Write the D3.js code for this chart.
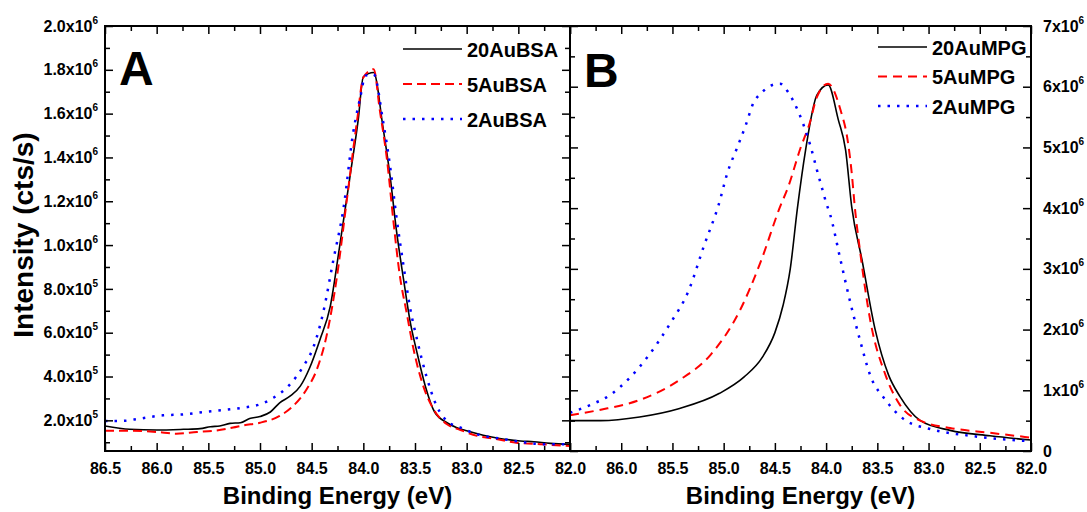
<!DOCTYPE html>
<html>
<head>
<meta charset="utf-8">
<script src="https://cdn.jsdelivr.net/npm/d3@7"></script>
<style>
  body { margin: 0; background: #fff; }
  text { font-family: "Liberation Sans", Arial, sans-serif; font-weight: bold; fill: #000; }
</style>
</head>
<body>
<div id="chart"></div>
<script>
// ---- data ----
// panel A : Au 4f, BSA samples (intensity in cts/s)
const bsa20E = [86.50,86.26,86.00,85.74,85.58,85.48,85.39,85.29,85.19,85.10,85.00,84.90,84.81,84.71,84.61,84.52,84.42,84.32,84.23,84.13,84.05,84.00,83.90,83.81,83.74,83.68,83.61,83.55,83.48,83.40,83.31,83.19,83.10,83.00,82.84,82.68,82.48,82.35,82.19,82.00];
const bsa20I = [1.74,1.59,1.56,1.59,1.62,1.71,1.74,1.86,1.89,2.08,2.17,2.38,2.80,3.10,3.56,4.39,5.68,7.20,9.92,13.1,15.7,17.68,17.88,15.38,13.1,10.68,8.41,6.59,5.08,3.56,2.38,1.89,1.67,1.52,1.32,1.17,1.06,1.02,0.95,0.91].map(v => v * 1e5);

const bsa5E = [86.50,86.26,86.00,85.81,85.61,85.45,85.26,85.16,85.00,84.81,84.68,84.55,84.45,84.35,84.26,84.16,84.06,84.00,83.90,83.84,83.77,83.71,83.65,83.58,83.52,83.44,83.32,83.19,83.06,82.90,82.74,82.52,82.29,82.00];
const bsa5I = [1.52,1.52,1.47,1.39,1.47,1.52,1.67,1.77,1.89,2.20,2.65,3.41,4.32,5.98,8.41,12.05,15.7,17.65,18.03,16.14,13.86,11.14,8.71,6.89,5.38,3.86,2.50,1.82,1.56,1.29,1.17,0.98,0.91,0.83].map(v => v * 1e5);

const bsa2E = [86.50,86.35,86.16,85.94,85.74,85.55,85.35,85.16,85.00,84.87,84.71,84.58,84.48,84.39,84.29,84.19,84.10,84.03,83.98,83.90,83.81,83.74,83.68,83.61,83.55,83.48,83.39,83.29,83.19,83.06,82.90,82.68,82.48,82.26,82.00];
const bsa2I = [1.97,1.97,2.08,2.23,2.27,2.38,2.47,2.58,2.73,3.03,3.64,4.47,5.38,6.89,9.32,11.74,15.08,16.74,17.73,17.80,15.68,13.56,11.30,9.02,7.20,5.68,4.02,2.65,1.97,1.67,1.36,1.17,1.02,0.91,0.91].map(v => v * 1e5);

// panel B : Au 4f, MPG samples
const mpg20E = [86.50,86.20,85.82,85.43,85.04,84.80,84.62,84.50,84.42,84.35,84.28,84.20,84.09,83.98,83.88,83.81,83.75,83.65,83.52,83.39,83.28,83.08,82.79,82.40,82.00];
const mpg20I = [0.50,0.50,0.56,0.70,0.95,1.22,1.55,1.95,2.40,3.00,4.00,4.96,5.86,6.03,5.45,4.96,4.02,3.15,1.99,1.25,0.90,0.50,0.34,0.25,0.18].map(v => v * 1e6);

const mpg5E = [86.50,86.20,85.82,85.43,85.13,84.84,84.64,84.45,84.37,84.25,84.16,84.09,83.98,83.86,83.79,83.75,83.72,83.67,83.57,83.42,83.28,83.08,82.79,82.40,82.00];
const mpg5I = [0.59,0.68,0.84,1.17,1.58,2.32,3.11,4.02,4.35,4.99,5.40,5.83,6.05,5.62,5.12,4.58,4.02,3.31,2.16,1.25,0.76,0.50,0.38,0.30,0.22].map(v => v * 1e6);

const mpg2E = [86.50,86.30,86.11,85.92,85.73,85.53,85.34,85.19,85.05,84.96,84.87,84.79,84.71,84.63,84.55,84.45,84.37,84.31,84.22,84.15,84.09,84.03,84.00,83.96,83.86,83.77,83.67,83.57,83.42,83.23,82.98,82.59,82.00];
const mpg2I = [0.63,0.76,0.92,1.20,1.58,2.08,2.65,3.39,4.05,4.60,4.99,5.34,5.73,5.90,6.01,6.05,5.91,5.73,5.37,5.01,4.63,4.27,4.09,3.89,3.15,2.49,1.83,1.25,0.84,0.51,0.36,0.25,0.16].map(v => v * 1e6);

// tick values
const energyTicks = [86.5,86.0,85.5,85.0,84.5,84.0,83.5,83.0,82.5,82.0];
const energyMinor = [86.25,85.75,85.25,84.75,84.25,83.75,83.25,82.75,82.25];
const bsaTicks = [2e5,4e5,6e5,8e5,1e6,1.2e6,1.4e6,1.6e6,1.8e6,2e6];
const bsaMinor = [1e5,3e5,5e5,7e5,9e5,1.1e6,1.3e6,1.5e6,1.7e6,1.9e6];
const mpgTicks = [0,1e6,2e6,3e6,4e6,5e6,6e6,7e6];
const mpgMinor = [0.5e6,1.5e6,2.5e6,3.5e6,4.5e6,5.5e6,6.5e6];

const seriesA = [
  {name: "20AuBSA", e: bsa20E, v: bsa20I, color: "#000", dash: null, w: 1.6},
  {name: "5AuBSA",  e: bsa5E,  v: bsa5I,  color: "#ff0000", dash: "9,5", w: 2},
  {name: "2AuBSA",  e: bsa2E,  v: bsa2I,  color: "#0000ff", dash: "2.5,7", w: 2.5}
];
const seriesB = [
  {name: "20AuMPG", e: mpg20E, v: mpg20I, color: "#000", dash: null, w: 1.6},
  {name: "5AuMPG",  e: mpg5E,  v: mpg5I,  color: "#ff0000", dash: "9,6", w: 2},
  {name: "2AuMPG",  e: mpg2E,  v: mpg2I,  color: "#0000ff", dash: "2.5,7", w: 2.5}
];

// ---- layout ----
const W = 1087, H = 512;
const plotTop = 26, plotBottom = 451;

const svg = d3.select("#chart").append("svg")
    .attr("width", W)
    .attr("height", H);

// label like 2.0x10^5 with a real superscript
function sciLabel(textSel, digits) {
  textSel.each(function (d) {
    const t = d3.select(this);
    t.text(null);
    if (d === 0) { t.text("0"); return; }
    const exp = Math.floor(Math.log10(d) + 1e-9);
    const m = d / Math.pow(10, exp);
    t.append("tspan").text(m.toFixed(digits) + "x10");
    t.append("tspan").attr("dy", -8).attr("font-size", 10).text(exp);
  });
}

function drawPanel(cfg) {
  const x = d3.scaleLinear().domain([86.5, 82.0]).range([cfg.left, cfg.right]);
  const y = d3.scaleLinear().domain(cfg.yDomain).range([plotBottom, plotTop]);
  const g = svg.append("g");

  const clipId = "clip" + cfg.letter;
  svg.append("clipPath").attr("id", clipId)
    .append("rect")
    .attr("x", cfg.left).attr("y", plotTop)
    .attr("width", cfg.right - cfg.left).attr("height", plotBottom - plotTop);

  const line = d3.line()
      .x(d => x(d[0]))
      .y(d => y(d[1]))
      .curve(d3.curveMonotoneX);

  g.append("g").attr("clip-path", "url(#" + clipId + ")")
    .selectAll("path")
    .data(cfg.series)
    .join("path")
      .attr("d", s => line(s.e.map((e, i) => [e, s.v[i]])))
      .attr("fill", "none")
      .attr("stroke", s => s.color)
      .attr("stroke-width", s => s.w)
      .attr("stroke-dasharray", s => s.dash);

  // ticks, all pointing inwards
  const axes = g.append("g");
  const bottomAx = axes.append("g").attr("transform", `translate(0,${plotBottom})`)
    .call(d3.axisBottom(x).tickValues(energyTicks).tickSizeInner(-8).tickSizeOuter(0).tickPadding(12)
      .tickFormat(d => (cfg.skipFirst && d === 86.5) ? "" : d3.format(".1f")(d)));
  bottomAx.selectAll("text").attr("font-size", 16).attr("fill", "#000");
  axes.append("g").attr("transform", `translate(0,${plotBottom})`)
    .call(d3.axisBottom(x).tickValues(energyMinor).tickSize(-5).tickFormat(""));
  axes.append("g").attr("transform", `translate(0,${plotTop})`)
    .call(d3.axisTop(x).tickValues(energyTicks).tickSize(-8).tickFormat(""));
  axes.append("g").attr("transform", `translate(0,${plotTop})`)
    .call(d3.axisTop(x).tickValues(energyMinor).tickSize(-5).tickFormat(""));

  // y ticks: labelled side plus mirrored side
  const labelAxis = cfg.labelSide === "left" ? d3.axisLeft : d3.axisRight;
  const otherAxis = cfg.labelSide === "left" ? d3.axisRight : d3.axisLeft;
  const lx = cfg.labelSide === "left" ? cfg.left : cfg.right;
  const ox = cfg.labelSide === "left" ? cfg.right : cfg.left;

  const yAx = axes.append("g").attr("transform", `translate(${lx},0)`)
    .call(labelAxis(y).tickValues(cfg.yTicks).tickSizeInner(-8).tickSizeOuter(0).tickPadding(cfg.yPad));
  yAx.selectAll("text").attr("font-size", 16).attr("fill", "#000").call(sciLabel, cfg.digits);
  axes.append("g").attr("transform", `translate(${lx},0)`)
    .call(labelAxis(y).tickValues(cfg.yMinor).tickSize(-5).tickFormat(""));
  axes.append("g").attr("transform", `translate(${ox},0)`)
    .call(otherAxis(y).tickValues(cfg.yTicks).tickSize(-8).tickFormat(""));
  axes.append("g").attr("transform", `translate(${ox},0)`)
    .call(otherAxis(y).tickValues(cfg.yMinor).tickSize(-5).tickFormat(""));

  axes.selectAll(".domain").remove();
  axes.selectAll(".tick line").attr("stroke", "#000").attr("stroke-width", 1.5);

  // frame
  g.append("rect")
    .attr("x", cfg.left).attr("y", plotTop)
    .attr("width", cfg.right - cfg.left).attr("height", plotBottom - plotTop)
    .attr("fill", "none").attr("stroke", "#000").attr("stroke-width", 2);

  // x title
  g.append("text")
    .attr("x", (cfg.left + cfg.right) / 2).attr("y", 504)
    .attr("text-anchor", "middle").attr("font-size", 24)
    .text("Binding Energy (eV)");

  // panel letter
  g.append("text")
    .attr("x", cfg.left + cfg.letterDx).attr("y", cfg.letterY)
    .attr("font-size", 48)
    .text(cfg.letter);

  // legend
  const leg = g.append("g").selectAll("g")
    .data(cfg.series)
    .join("g")
      .attr("transform", (s, i) => `translate(0,${cfg.legY + i * cfg.legStep})`);
  leg.append("line")
    .attr("x1", cfg.legX).attr("x2", cfg.legX + cfg.legLen)
    .attr("stroke", s => s.color)
    .attr("stroke-width", s => s.w)
    .attr("stroke-dasharray", s => s.dash);
  leg.append("text")
    .attr("x", cfg.legX + cfg.legLen + 5).attr("y", 7.5)
    .attr("font-size", 20)
    .text(s => s.name);
}

drawPanel({
  letter: "A", left: 105, right: 570,
  yDomain: [6e4, 2e6], yTicks: bsaTicks, yMinor: bsaMinor, digits: 1,
  labelSide: "left", yPad: 7, skipFirst: false,
  series: seriesA, legX: 403, legLen: 59, legY: 49, legStep: 35,
  letterDx: 14, letterY: 85
});
drawPanel({
  letter: "B", left: 570, right: 1031,
  yDomain: [0, 7e6], yTicks: mpgTicks, yMinor: mpgMinor, digits: 0,
  labelSide: "right", yPad: 12, skipFirst: true,
  series: seriesB, legX: 878, legLen: 49, legY: 47, legStep: 29.5,
  letterDx: 14, letterY: 87
});

// shared y title
svg.append("text")
  .attr("transform", "translate(33,235) rotate(-90)")
  .attr("text-anchor", "middle")
  .attr("font-size", 28)
  .text("Intensity (cts/s)");
</script>
</body>
</html>
